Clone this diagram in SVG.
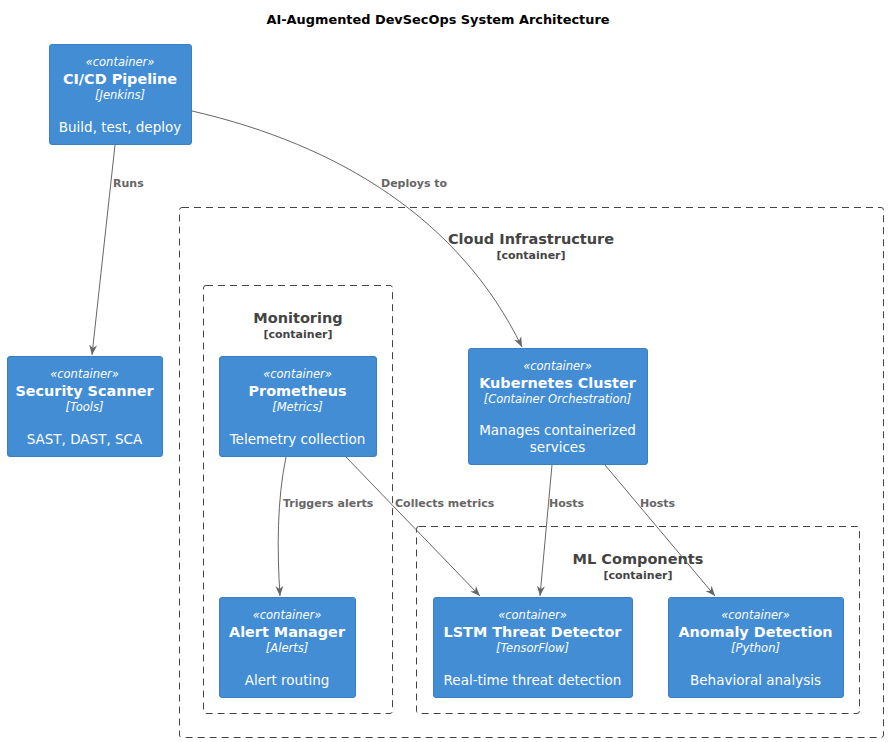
<svg xmlns="http://www.w3.org/2000/svg" width="888" height="742" viewBox="0 0 888 742">
<defs>
<marker id="arr" viewBox="0 0 10 10" refX="10" refY="5" markerWidth="10" markerHeight="10" markerUnits="userSpaceOnUse" orient="auto">
<path d="M0,1 L10,5 L0,9 L3,5 Z" fill="#666666"/>
</marker>
<style>
text{font-family:"DejaVu Sans","Noto Sans",sans-serif;text-anchor:middle}
.box{fill:#438DD5;stroke:#3C7FC0;stroke-width:1}
.st{font-size:11.5px;font-style:italic;fill:#FFFFFF}
.nm{font-size:14.4px;font-weight:bold;fill:#FFFFFF}
.tc{font-size:11.5px;font-style:italic;fill:#FFFFFF}
.ds{font-size:13.5px;fill:#FFFFFF}
.bd{fill:none;stroke:#444444;stroke-width:1;stroke-dasharray:7,5}
.bt{font-size:14.5px;font-weight:bold;fill:#444444}
.bs{font-size:11px;font-weight:bold;fill:#444444}
.ln{fill:none;stroke:#666666;stroke-width:1}
.lb{font-size:11px;font-weight:bold;fill:#666666;text-anchor:start}
.ti{font-size:12.9px;font-weight:bold;fill:#000000}
</style>
</defs>
<rect width="888" height="742" fill="#FFFFFF"/>
<text class="ti" x="438" y="23.5">AI-Augmented DevSecOps System Architecture</text>

<g id="cloud-infrastructure">
<rect class="bd" x="179.5" y="207.5" width="704" height="530" rx="2.5"/>
<text class="bt" x="531" y="244">Cloud Infrastructure</text>
<text class="bs" x="531" y="259">[container]</text>
</g>
<g id="monitoring">
<rect class="bd" x="203.5" y="285.5" width="189" height="428" rx="2.5"/>
<text class="bt" x="298" y="323">Monitoring</text>
<text class="bs" x="298" y="338">[container]</text>
</g>
<g id="ml-components">
<rect class="bd" x="416.5" y="526.5" width="443" height="187" rx="2.5"/>
<text class="bt" x="638" y="564">ML Components</text>
<text class="bs" x="638" y="579">[container]</text>
</g>

<g id="connectors">
<path class="ln" d="M115,145 L92,355" marker-end="url(#arr)"/>
<text class="lb" x="113" y="187">Runs</text>
<path class="ln" d="M192,111 C340,145 460,220 522,347" marker-end="url(#arr)"/>
<text class="lb" x="381" y="187">Deploys to</text>
<path class="ln" d="M286,457 C277,500 277,550 280,596" marker-end="url(#arr)"/>
<text class="lb" x="283" y="507">Triggers alerts</text>
<path class="ln" d="M346,457 L480,596" marker-end="url(#arr)"/>
<text class="lb" x="395" y="507">Collects metrics</text>
<path class="ln" d="M552,465 L540,596" marker-end="url(#arr)"/>
<text class="lb" x="549" y="507">Hosts</text>
<path class="ln" d="M605,465 L715,596" marker-end="url(#arr)"/>
<text class="lb" x="640" y="507">Hosts</text>
</g>

<g id="cicd-pipeline">
<rect class="box" x="49.5" y="44.5" width="142" height="100" rx="2.5"/>
<text class="st" x="120" y="66">«container»</text>
<text class="nm" x="120" y="84">CI/CD Pipeline</text>
<text class="tc" x="120" y="99">[Jenkins]</text>
<text class="ds" x="120" y="132">Build, test, deploy</text>
</g>
<g id="security-scanner">
<rect class="box" x="7.5" y="356.5" width="155" height="100" rx="2.5"/>
<text class="st" x="84.5" y="378">«container»</text>
<text class="nm" x="84.5" y="396">Security Scanner</text>
<text class="tc" x="84.5" y="411">[Tools]</text>
<text class="ds" x="84.5" y="444">SAST, DAST, SCA</text>
</g>
<g id="prometheus">
<rect class="box" x="219.5" y="356.5" width="157" height="100" rx="2.5"/>
<text class="st" x="297.5" y="378">«container»</text>
<text class="nm" x="297.5" y="396">Prometheus</text>
<text class="tc" x="297.5" y="411">[Metrics]</text>
<text class="ds" x="297.5" y="444">Telemetry collection</text>
</g>
<g id="kubernetes-cluster">
<rect class="box" x="468.5" y="348.5" width="179" height="116" rx="2.5"/>
<text class="st" x="557.5" y="370">«container»</text>
<text class="nm" x="557.5" y="388">Kubernetes Cluster</text>
<text class="tc" x="557.5" y="403">[Container Orchestration]</text>
<text class="ds" x="557.5" y="435">Manages containerized</text>
<text class="ds" x="557.5" y="452">services</text>
</g>
<g id="alert-manager">
<rect class="box" x="219.5" y="597.5" width="136" height="100" rx="2.5"/>
<text class="st" x="287" y="619">«container»</text>
<text class="nm" x="287" y="637">Alert Manager</text>
<text class="tc" x="287" y="652">[Alerts]</text>
<text class="ds" x="287" y="685">Alert routing</text>
</g>
<g id="lstm-threat-detector">
<rect class="box" x="433.5" y="597.5" width="199" height="100" rx="2.5"/>
<text class="st" x="532.5" y="619">«container»</text>
<text class="nm" x="532.5" y="637">LSTM Threat Detector</text>
<text class="tc" x="532.5" y="652">[TensorFlow]</text>
<text class="ds" x="532.5" y="685">Real-time threat detection</text>
</g>
<g id="anomaly-detection">
<rect class="box" x="668.5" y="597.5" width="175" height="100" rx="2.5"/>
<text class="st" x="755.5" y="619">«container»</text>
<text class="nm" x="755.5" y="637">Anomaly Detection</text>
<text class="tc" x="755.5" y="652">[Python]</text>
<text class="ds" x="755.5" y="685">Behavioral analysis</text>
</g>
</svg>
